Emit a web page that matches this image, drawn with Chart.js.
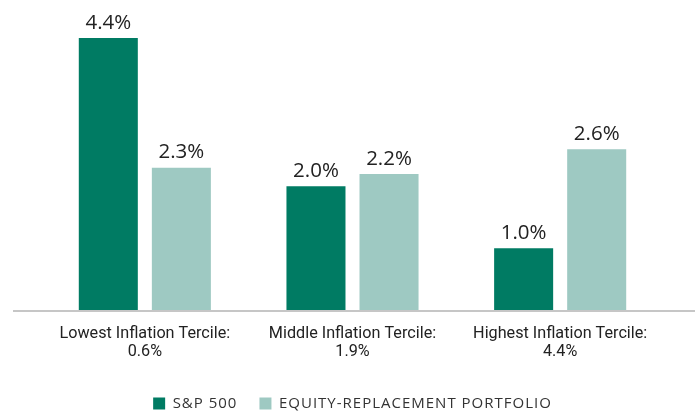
<!DOCTYPE html>
<html>
<head>
<meta charset="utf-8">
<script src="https://cdn.jsdelivr.net/npm/chart.js@4"></script>
<style>
  html, body { margin: 0; padding: 0; background: #fff; }
  #wrap { width: 699px; height: 412px; }
</style>
</head>
<body>
<div id="wrap"><canvas id="returnsChart" width="699" height="412"></canvas></div>
<script>
// Categories (two-line tick labels)
const categories = [
    ['Lowest Inflation Tercile:', '0.6%'],
    ['Middle Inflation Tercile:', '1.9%'],
    ['Highest Inflation Tercile:', '4.4%']
];
const sp500 = [4.4, 2.0, 1.0];
const equityReplacement = [2.3, 2.2, 2.6];

const darkGreen = '#007b63';
const lightGreen = '#9ec9c2';
const labelFont = '"Open Sans", Lato, sans-serif';
const tickFont = 'Roboto, "Open Sans", sans-serif';

// value labels above each bar
const valueLabels = {
    id: 'valueLabels',
    afterDatasetsDraw(chart) {
        const ctx = chart.ctx;
        ctx.save();
        ctx.font = '20.5px ' + labelFont;
        ctx.fillStyle = '#222';
        ctx.textAlign = 'center';
        ctx.textBaseline = 'bottom';
        chart.data.datasets.forEach((ds, i) => {
            chart.getDatasetMeta(i).data.forEach((bar, j) => {
                ctx.fillText(ds.data[j].toFixed(1) + '%', bar.x, bar.y - 5);
            });
        });
        ctx.restore();
    }
};

// grey baseline, a little wider than the plot area
const baseline = {
    id: 'baseline',
    afterDatasetsDraw(chart) {
        const ctx = chart.ctx;
        const y = chart.scales.y.getPixelForValue(0);
        ctx.save();
        ctx.strokeStyle = '#c6c6c6';
        ctx.lineWidth = 2;
        ctx.beginPath();
        ctx.moveTo(13, y + 1);
        ctx.lineTo(chart.width - 4, y + 1);
        ctx.stroke();
        ctx.restore();
    }
};

// spaced-out capitals in the legend only
const legendSpacing = {
    id: 'legendSpacing',
    afterInit(chart) {
        const lg = chart.legend;
        if (!lg) return;
        ['fit', 'draw'].forEach(name => {
            const orig = lg[name].bind(lg);
            lg[name] = function () {
                const ctx = this.ctx;
                const prev = ctx.letterSpacing;
                ctx.letterSpacing = '1px';
                orig();
                ctx.letterSpacing = prev || '0px';
            };
        });
    }
};

new Chart(document.getElementById('returnsChart'), {
    type: 'bar',
    data: {
        labels: categories,
        datasets: [
            {
                label: 'S&P 500',
                data: sp500,
                backgroundColor: darkGreen
            },
            {
                label: 'EQUITY-REPLACEMENT PORTFOLIO',
                data: equityReplacement,
                backgroundColor: lightGreen
            }
        ]
    },
    options: {
        responsive: false,
        animation: false,
        devicePixelRatio: 1,
        layout: {
            padding: { left: 41, right: 35, top: 38, bottom: -9 }
        },
        datasets: {
            bar: {
                categoryPercentage: 0.7036,
                barPercentage: 0.808
            }
        },
        plugins: {
            legend: {
                position: 'bottom',
                labels: {
                    color: '#333',
                    font: { family: labelFont, size: 15 },
                    boxWidth: 12,
                    boxHeight: 12,
                    padding: 22
                }
            },
            tooltip: { enabled: false }
        },
        scales: {
            y: {
                display: false,
                min: 0,
                max: 4.4
            },
            x: {
                grid: { display: false },
                border: { display: false },
                ticks: {
                    color: '#222',
                    font: { family: tickFont, size: 16.2, lineHeight: 1.12 },
                    padding: 7,
                    maxRotation: 0
                },
                afterFit(scale) {
                    scale.height = 64;
                }
            }
        }
    },
    plugins: [legendSpacing, valueLabels, baseline]
});
</script>
</body>
</html>
